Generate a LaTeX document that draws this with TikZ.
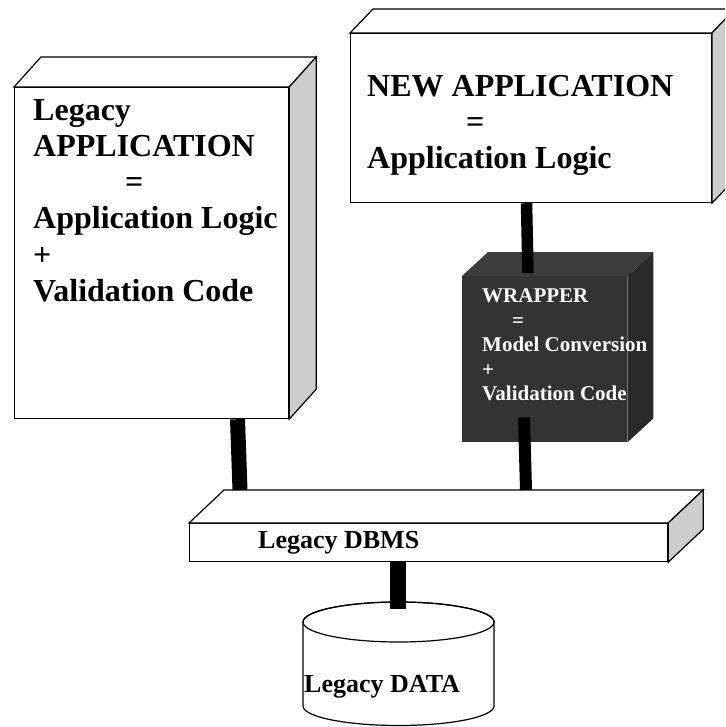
\documentclass[tikz,border=0pt]{standalone}
\usepackage{fontspec}
\setmainfont{Liberation Serif}
\usetikzlibrary{calc}

\definecolor{sideface}{RGB}{205,205,205}
\definecolor{wrapfront}{RGB}{51,51,51}
\definecolor{wraptop}{RGB}{60,60,60}
\definecolor{wrapside}{RGB}{42,42,42}

\tikzset{
  outline/.style={draw=black, line width=1.2pt, line join=miter},
  frontface/.style={rectangle, outline, fill=white, inner sep=0pt, anchor=north west},
  darkface/.style={rectangle, fill=wrapfront, draw=none, inner sep=0pt, anchor=north west},
  biglbl/.style={anchor=base west, inner sep=0pt, font=\bfseries\fontsize{32}{36}\selectfont},
  midlbl/.style={anchor=base west, inner sep=0pt, font=\bfseries\fontsize{26}{30}\selectfont},
  smalllbl/.style={anchor=base west, inner sep=0pt, text=white, font=\bfseries\fontsize{21}{25}\selectfont},
  bar/.style={draw=black, line cap=butt}
}

\begin{document}
\begin{tikzpicture}[x=1pt, y=-1pt]
  \clip (0,0) rectangle (725,727);
  \fill[white] (0,0) rectangle (725,727);

  % Legacy application block
  \node[frontface, minimum width=274pt, minimum height=331pt] (legacy) at (14,87) {};
  \filldraw[outline, fill=white] (legacy.north west) -- ++(27,-30)
    -- ($(legacy.north east)+(27,-30)$) -- (legacy.north east) -- cycle;
  \filldraw[outline, fill=sideface] (legacy.north east) -- ++(27,-30)
    -- ($(legacy.south east)+(27,-30)$) -- (legacy.south east) -- cycle;
  \node[biglbl] (lg1) at (33,121) {Legacy};
  \node[biglbl] (lg2) at (33,157) {APPLICATION};
  \node[biglbl] (lg3) at (125,193) {=};
  \node[biglbl] (lg4) at (33,228) {Application Logic};
  \node[biglbl] (lg5) at (33,265) {+};
  \node[biglbl] (lg6) at (33,301) {Validation Code};

  % New application block
  \node[frontface, minimum width=360.7pt, minimum height=169pt] (newapp) at (350,33) {};
  \filldraw[outline, fill=white] (newapp.north west) -- ++(23,-24)
    -- ($(newapp.north east)+(23,-24)$) -- (newapp.north east) -- cycle;
  \filldraw[outline, fill=sideface] (newapp.north east) -- ++(23,-24)
    -- ($(newapp.south east)+(23,-24)$) -- (newapp.south east) -- cycle;
  \node[biglbl] (na1) at (367,97) {NEW APPLICATION};
  \node[biglbl] (na2) at (466,133) {=};
  \node[biglbl] (na3) at (367,169) {Application Logic};

  % Wrapper block
  \node[darkface, minimum width=165pt, minimum height=166pt] (wrapper) at (462,276) {};
  \fill[wraptop] (wrapper.north west) -- ++(26,-24)
    -- ($(wrapper.north east)+(26,-24)$) -- (wrapper.north east) -- cycle;
  \fill[wrapside] (wrapper.north east) -- ++(26,-24)
    -- ($(wrapper.south east)+(26,-24)$) -- (wrapper.south east) -- cycle;
  \node[smalllbl] (wr1) at (482,302.7) {WRAPPER};
  \node[smalllbl] (wr2) at (512,327.2) {=};
  \node[smalllbl] (wr3) at (482,351.7) {Model Conversion};
  \node[smalllbl] (wr4) at (482,376.2) {+};
  \node[smalllbl] (wr5) at (482,400.7) {Validation Code};

  % Legacy DBMS slab
  \node[frontface, minimum width=478pt, minimum height=38pt] (dbms) at (189,523) {};
  \filldraw[outline, fill=white] (dbms.north west) -- ++(35,-33)
    -- ($(dbms.north east)+(35,-33)$) -- (dbms.north east) -- cycle;
  \filldraw[outline, fill=sideface] (dbms.north east) -- ++(35,-33)
    -- ($(dbms.south east)+(35,-33)$) -- (dbms.south east) -- cycle;
  \node[midlbl] (dbl) at (258,548) {Legacy DBMS};

  % Legacy data store
  \filldraw[outline, fill=white] (303,622) -- (303,706)
    arc[start angle=180, end angle=0, x radius=95.5, y radius=19.5]
    -- (494,622) arc[start angle=0, end angle=-180, x radius=95.5, y radius=20] -- cycle;
  \draw[outline] (398.5,622) ellipse[x radius=95.5, y radius=20];
  \coordinate (datatop) at (398,609);
  \node[midlbl] (dtl) at (304,692) {Legacy DATA};

  % Links between the blocks
  \draw[bar, line width=15pt] ($(legacy.south west)+(223.5,0)$) -- ($(dbms.north west)+(51,-33)$);
  \draw[bar, line width=12pt] ($(wrapper.south west)+(62,-25)$) -- ($(dbms.north west)+(337,-33)$);
  \draw[bar, line width=11.5pt] ($(newapp.south west)+(176.5,0)$) -- ($(wrapper.north west)+(66,-3)$);
  \draw[bar, line width=16pt] ($(dbms.south west)+(209,0)$) -- (datatop);
\end{tikzpicture}
\end{document}
